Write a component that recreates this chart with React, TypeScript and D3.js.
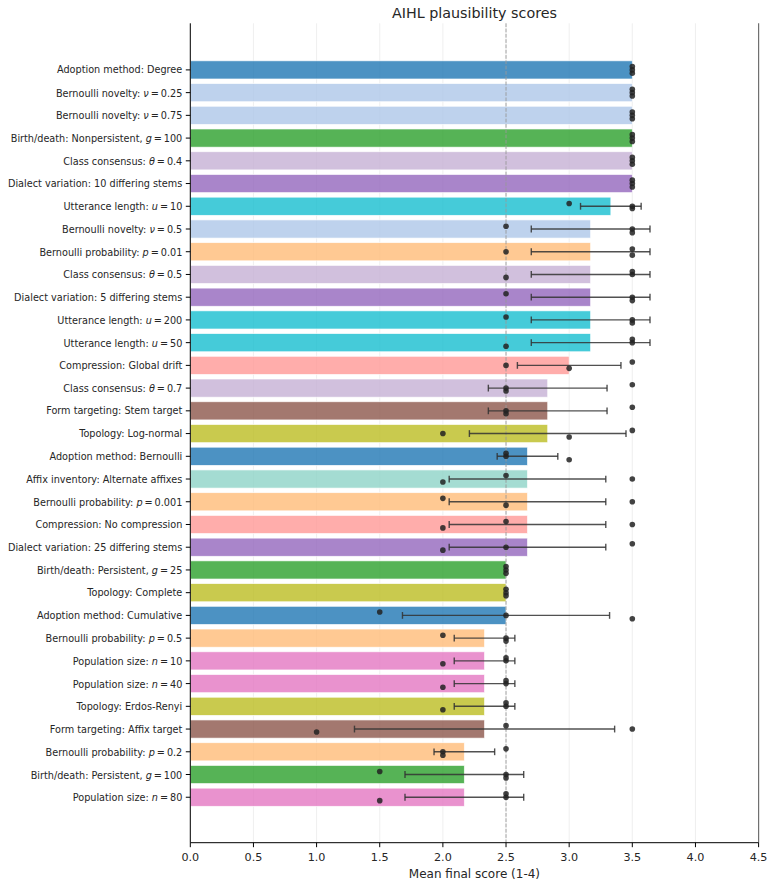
import React from "react";
import * as d3 from "d3";

const categories = [
  "Adoption method: Degree",
  "Bernoulli novelty: ν = 0.25",
  "Bernoulli novelty: ν = 0.75",
  "Birth/death: Nonpersistent, g = 100",
  "Class consensus: θ = 0.4",
  "Dialect variation: 10 differing stems",
  "Utterance length: u = 10",
  "Bernoulli novelty: ν = 0.5",
  "Bernoulli probability: p = 0.01",
  "Class consensus: θ = 0.5",
  "Dialect variation: 5 differing stems",
  "Utterance length: u = 200",
  "Utterance length: u = 50",
  "Compression: Global drift",
  "Class consensus: θ = 0.7",
  "Form targeting: Stem target",
  "Topology: Log-normal",
  "Adoption method: Bernoulli",
  "Affix inventory: Alternate affixes",
  "Bernoulli probability: p = 0.001",
  "Compression: No compression",
  "Dialect variation: 25 differing stems",
  "Birth/death: Persistent, g = 25",
  "Topology: Complete",
  "Adoption method: Cumulative",
  "Bernoulli probability: p = 0.5",
  "Population size: n = 10",
  "Population size: n = 40",
  "Topology: Erdos-Renyi",
  "Form targeting: Affix target",
  "Bernoulli probability: p = 0.2",
  "Birth/death: Persistent, g = 100",
  "Population size: n = 80",
];

const means = [
  3.5, 3.5, 3.5, 3.5, 3.5, 3.5, 3.33, 3.17, 3.17, 3.17, 3.17, 3.17, 3.17, 3.0,
  2.83, 2.83, 2.83, 2.67, 2.67, 2.67, 2.67, 2.67, 2.5, 2.5, 2.5, 2.33, 2.33,
  2.33, 2.33, 2.33, 2.17, 2.17, 2.17,
];

const errors = [
  0, 0, 0, 0, 0, 0, 0.24, 0.47, 0.47, 0.47, 0.47, 0.47, 0.47, 0.41, 0.47, 0.47,
  0.62, 0.24, 0.62, 0.62, 0.62, 0.62, 0, 0, 0.82, 0.24, 0.24, 0.24, 0.24, 1.03,
  0.24, 0.47, 0.47,
];

const runScores = [
  [3.5, 3.5, 3.5], [3.5, 3.5, 3.5], [3.5, 3.5, 3.5], [3.5, 3.5, 3.5],
  [3.5, 3.5, 3.5], [3.5, 3.5, 3.5], [3.0, 3.5, 3.5], [2.5, 3.5, 3.5],
  [2.5, 3.5, 3.5], [2.5, 3.5, 3.5], [2.5, 3.5, 3.5], [2.5, 3.5, 3.5],
  [2.5, 3.5, 3.5], [2.5, 3.0, 3.5], [2.5, 2.5, 3.5], [2.5, 2.5, 3.5],
  [2.0, 3.0, 3.5], [2.5, 2.5, 3.0], [2.0, 2.5, 3.5], [2.0, 2.5, 3.5],
  [2.0, 2.5, 3.5], [2.0, 2.5, 3.5], [2.5, 2.5, 2.5], [2.5, 2.5, 2.5],
  [1.5, 2.5, 3.5], [2.0, 2.5, 2.5], [2.0, 2.5, 2.5], [2.0, 2.5, 2.5],
  [2.0, 2.5, 2.5], [1.0, 2.5, 3.5], [2.0, 2.0, 2.5], [1.5, 2.5, 2.5],
  [1.5, 2.5, 2.5],
];

const runJitter = [
  [-0.15, 0, 0.15], [-0.15, 0, 0.15], [-0.15, 0, 0.15], [-0.15, 0, 0.15],
  [-0.15, 0, 0.15], [-0.15, 0, 0.15], [-0.12, 0, 0.1], [-0.12, 0, 0.16],
  [0, -0.12, 0.15], [0.13, -0.13, 0], [-0.15, 0, 0.15], [-0.13, 0, 0.13],
  [0.16, -0.15, 0], [0, 0.13, -0.15], [0, 0.13, -0.15], [0, 0.13, -0.16],
  [0, 0.15, -0.14], [-0.13, 0, 0.15], [0.13, -0.15, 0], [-0.15, 0.15, 0],
  [0.15, -0.13, 0], [0.13, 0, -0.15], [-0.15, 0, 0.15], [-0.15, 0, 0.13],
  [-0.15, 0, 0.15], [-0.13, 0, 0.13], [0.13, -0.13, 0], [0.16, -0.13, 0],
  [0.15, -0.15, 0], [0.13, -0.15, 0], [0, 0.15, -0.13], [-0.13, 0, 0.15],
  [0.15, -0.15, 0],
];

const groupNames = [
  "Adoption method", "Bernoulli novelty", "Birth/death", "Class consensus",
  "Dialect variation", "Utterance length", "Bernoulli probability",
  "Compression", "Form targeting", "Topology", "Affix inventory",
  "Population size",
];
const groupColors = [
  "#1f77b4", "#aec7e8", "#2ca02c", "#c5b0d5", "#9467bd", "#17becf",
  "#ffbb78", "#ff9896", "#8c564b", "#bcbd22", "#8dd3c7", "#e377c2",
];

const xTicks = [0, 0.5, 1, 1.5, 2, 2.5, 3, 3.5, 4, 4.5];

const FONT = "'DejaVu Sans', sans-serif";

function Label({ text, x, y }: { text: string; x: number; y: number }) {
  const m = text.match(/^(.*?)([a-zνθ]) = ([\d.]+)$/);
  if (!m) {
    return (
      <text x={x} y={y} textAnchor="end" dominantBaseline="central" fontSize={9.7} fontFamily={FONT} fill="#262626">
        {text}
      </text>
    );
  }
  return (
    <text x={x} y={y} textAnchor="end" dominantBaseline="central" fontSize={9.7} fontFamily={FONT} fill="#262626">
      <tspan>{m[1]}</tspan>
      <tspan fontStyle="italic">{m[2]}</tspan>
      <tspan>{"\u2009=\u2009"}</tspan>
      <tspan>{m[3]}</tspan>
    </text>
  );
}

export default function App() {
  const W = 774;
  const H = 887;
  const left = 190.3;
  const right = 758.6;
  const top = 23.3;
  const bottom = 842.7;

  const x = d3.scaleLinear().domain([0, 4.5]).range([left, right]);
  const y = d3.scaleLinear().domain([-2.05, 34.0]).range([top, bottom]);
  const rowH = y(1) - y(0);
  const barH = rowH * 0.8;
  const color = (cat: string) => {
    const g = cat.split(":")[0];
    return groupColors[groupNames.indexOf(g)];
  };

  return (
    <svg width={W} height={H} style={{ position: "absolute", left: 0, top: 0, background: "#fff" }}>
      {/* grid */}
      {xTicks.map((t) => (
        <line
          key={"g" + t}
          x1={x(t)} x2={x(t)} y1={top} y2={bottom}
          stroke={t === 4.5 ? "#707070" : "#ebebeb"}
          strokeWidth={t === 4.5 ? 1.2 : 0.8}
        />
      ))}
      {/* bars */}
      {categories.map((c, i) => (
        <rect
          key={"b" + i}
          x={x(0)}
          y={y(i) - barH / 2}
          width={x(means[i]) - x(0)}
          height={barH}
          fill={color(c)}
          fillOpacity={0.8}
          stroke="#ffffff"
          strokeOpacity={0.8}
          strokeWidth={0.8}
        />
      ))}
      {/* reference line */}
      <line x1={x(2.5)} x2={x(2.5)} y1={top} y2={bottom} stroke="#9a9a9a" strokeWidth={0.9} strokeDasharray="3.7,1.6" />
      {/* error bars */}
      {categories.map((c, i) =>
        errors[i] > 0 ? (
          <g key={"e" + i} stroke="#333" strokeOpacity={0.85} strokeWidth={1.4}>
            <line x1={x(means[i] - errors[i])} x2={x(means[i] + errors[i])} y1={y(i)} y2={y(i)} />
            <line x1={x(means[i] - errors[i])} x2={x(means[i] - errors[i])} y1={y(i) - 3.4} y2={y(i) + 3.4} />
            <line x1={x(means[i] + errors[i])} x2={x(means[i] + errors[i])} y1={y(i) - 3.4} y2={y(i) + 3.4} />
          </g>
        ) : null
      )}
      {/* run points */}
      {runScores.map((row, i) =>
        row.map((v, j) => (
          <circle key={"p" + i + "-" + j} cx={x(v)} cy={y(i + runJitter[i][j])} r={2.8} fill="#222" fillOpacity={0.85} />
        ))
      )}
      {/* spines */}
      <line x1={left} x2={left} y1={top} y2={bottom} stroke="#000" strokeWidth={1} />
      <line x1={left} x2={right} y1={bottom} y2={bottom} stroke="#000" strokeWidth={1} />
      {/* y ticks + labels */}
      {categories.map((c, i) => (
        <g key={"yl" + i}>
          <line x1={left - 4.5} x2={left} y1={y(i)} y2={y(i)} stroke="#000" strokeWidth={1} />
          <Label text={c} x={left - 8} y={y(i)} />
        </g>
      ))}
      {/* x ticks */}
      {xTicks.map((t) => (
        <g key={"xt" + t}>
          <line x1={x(t)} x2={x(t)} y1={bottom} y2={bottom + 4.5} stroke="#000" strokeWidth={1} />
          <text x={x(t)} y={bottom + 18} textAnchor="middle" fontSize={11.2} fontFamily={FONT} fill="#262626">
            {d3.format(".1f")(t)}
          </text>
        </g>
      ))}
      <text x={(left + right) / 2} y={877.5} textAnchor="middle" fontSize={12} fontFamily={FONT} fill="#262626">
        Mean final score (1-4)
      </text>
      <text x={(left + right) / 2} y={18} textAnchor="middle" fontSize={14.3} fontFamily={FONT} fill="#262626">
        AIHL plausibility scores
      </text>
    </svg>
  );
}
